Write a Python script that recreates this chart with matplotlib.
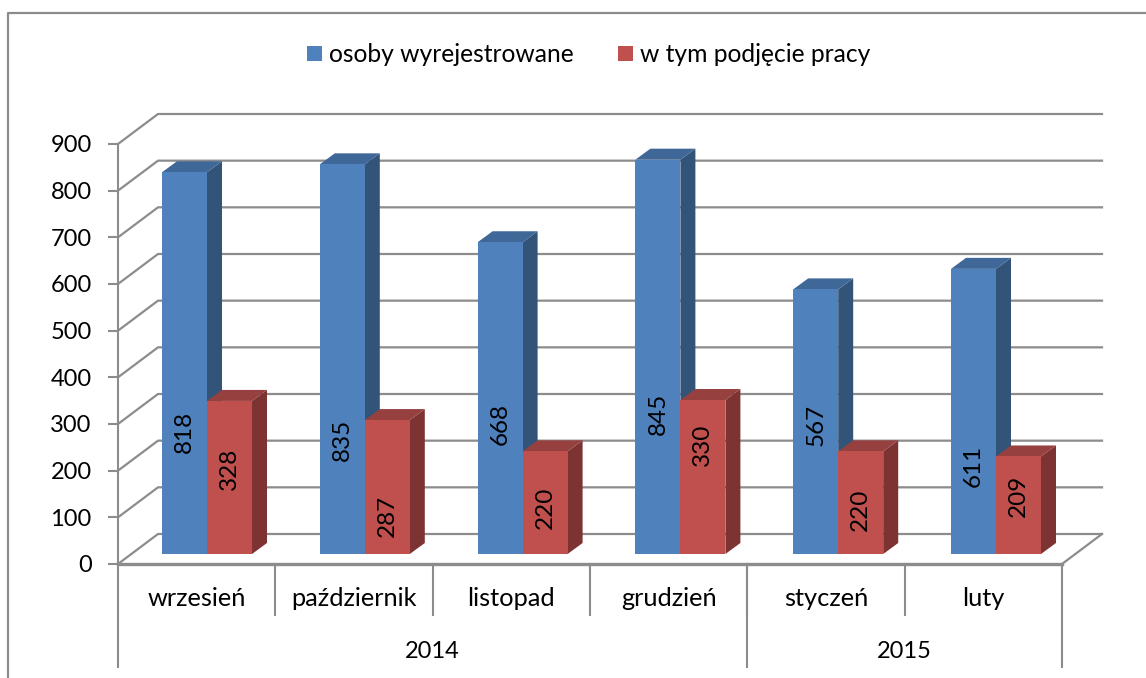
import matplotlib
matplotlib.use('Agg')
import matplotlib.pyplot as plt
from matplotlib.patches import Polygon, Rectangle

plt.rcParams['font.family'] = ['Lato', 'DejaVu Sans']

months = ['wrzesień', 'październik', 'listopad', 'grudzień', 'styczeń', 'luty']
years = ['2014', '2015']
year_spans = [(0, 4), (4, 6)]
wyrejestrowane = [818, 835, 668, 845, 567, 611]
podjecie = [328, 287, 220, 330, 220, 209]
y_ticks = [0, 100, 200, 300, 400, 500, 600, 700, 800, 900]

# heights of the data labels, they were moved by hand in the original
label_pos_blue = [284, 267, 301, 322, 299, 211]
label_pos_red = [203, 104, 121, 256, 117, 147]

W, H = 1146, 678
GRID = '#8c8c8c'
X0, X1, Y0, Y900 = 118, 1062, 564, 144
px_x = 6 / (X1 - X0)
px_y = 900 / (Y0 - Y900)

fig = plt.figure(figsize=(W / 100, H / 100), dpi=100)
# frame of the chart, cut by the picture edge
fig.add_artist(plt.Line2D([8 / W, 8 / W, 1], [0, 1 - 13 / H, 1 - 13 / H], color=GRID, lw=1.6))

ax = fig.add_axes([X0 / W, 1 - Y0 / H, (X1 - X0) / W, (Y0 - Y900) / H])
ax.set_xlim(0, 6)
ax.set_ylim(0, 900)
ax.patch.set_visible(False)
for s in ['top', 'right', 'bottom']:
    ax.spines[s].set_visible(False)
ax.spines['left'].set_color(GRID)
ax.spines['left'].set_linewidth(1.5)
ax.set_yticks(y_ticks)
ax.tick_params(axis='y', length=7, width=1.5, color=GRID, labelsize=17, pad=12)
ax.set_xticks([])

# floor and walls
depth_x = 40 * px_x
depth_y = 30 * px_y
for v in y_ticks:
    ax.plot([0, depth_x, 6 + depth_x], [v, v + depth_y, v + depth_y], color=GRID, lw=1.6, clip_on=False, zorder=1)
ax.plot([6, 6 + depth_x], [0, depth_y], color=GRID, lw=1.6, clip_on=False, zorder=1)
ax.plot([0, 6], [0, 0], color=GRID, lw=2.4, clip_on=False, zorder=1)


def bar3d(x, w, v, front, top, side):
    # bar stands inside the floor, front face shifted back from the axis
    sy = 10 * px_y
    dx, dy = 15 * px_x, 11 * px_y
    r = x + w
    b, t = sy, v + sy
    ax.add_patch(Polygon([(r, b), (r + dx, b + dy), (r + dx, t + dy), (r, t)], fc=side, ec='none', zorder=3, clip_on=False))
    ax.add_patch(Polygon([(x, t), (x + dx, t + dy), (r + dx, t + dy), (r, t)], fc=top, ec='none', zorder=3, clip_on=False))
    ax.add_patch(Rectangle((x, b), w, v, fc=front, ec='none', zorder=3, clip_on=False))
    return x + w / 2


bar_w = 45 * px_x
start = 44 * px_x
step = 157.8 * px_x
for i in range(6):
    xb = start + i * step
    cx = bar3d(xb, bar_w, wyrejestrowane[i], '#4f81bd', '#3f6797', '#335479')
    ax.text(cx, label_pos_blue[i], str(wyrejestrowane[i]), rotation=90, ha='center', va='center', fontsize=17.5, color='black', zorder=6)
    cx = bar3d(xb + bar_w, bar_w, podjecie[i], '#c0504d', '#964040', '#7d3331')
    ax.text(cx, label_pos_red[i], str(podjecie[i]), rotation=90, ha='center', va='center', fontsize=17.5, color='black', zorder=6)

# category axis, two levels
sep1 = -51 * px_y
sep2 = -103 * px_y
for i, m in enumerate(months):
    ax.text(i + 0.5, -34 * px_y, m, ha='center', va='center', fontsize=18.3, clip_on=False)
    if i > 0:
        ax.plot([i, i], [0, sep1], color=GRID, lw=1.5, clip_on=False)
for (a, b), y in zip(year_spans, years):
    ax.text((a + b) / 2, -88 * px_y, y, ha='center', va='center', fontsize=17, clip_on=False)
for x in [0, 4, 6]:
    ax.plot([x, x], [0, sep2], color=GRID, lw=1.5, clip_on=False)

# legend
fig.patches.append(Rectangle((307 / W, 1 - 61 / H), 15 / W, 15 / H, transform=fig.transFigure, fc='#4f81bd', ec='none'))
fig.patches.append(Rectangle((618 / W, 1 - 61 / H), 15 / W, 15 / H, transform=fig.transFigure, fc='#c0504d', ec='none'))
fig.text(329 / W, 1 - 54 / H, 'osoby wyrejestrowane', fontsize=17.7, va='center')
fig.text(640 / W, 1 - 54 / H, 'w tym podjęcie pracy', fontsize=17.7, va='center')

fig.savefig('out.png', dpi=100)
